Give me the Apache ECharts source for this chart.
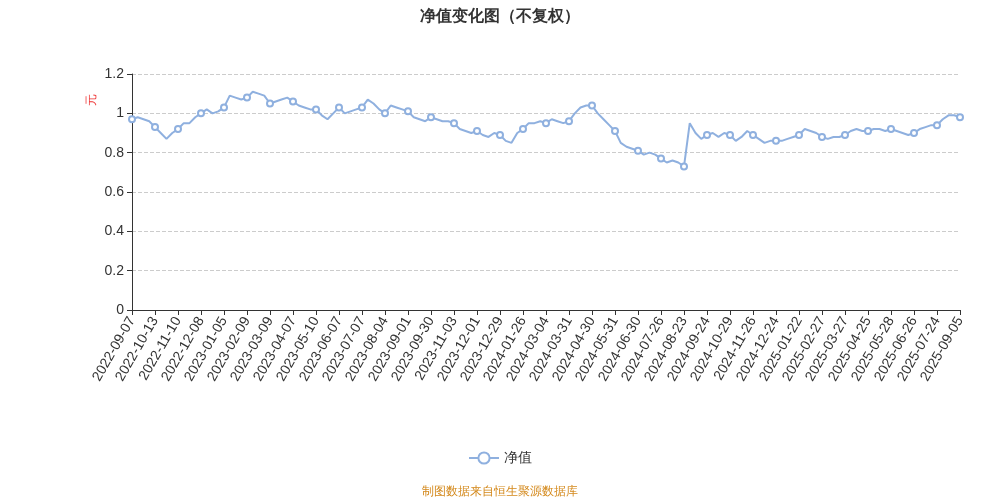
<!DOCTYPE html>
<html><head><meta charset="utf-8">
<script src="https://cdn.jsdelivr.net/npm/echarts@6/dist/echarts.min.js"></script>
<style>html,body{margin:0;padding:0}#c{width:1000px;height:500px}</style></head>
<body><div id="c"></div>
<script>
const labelDates = ["2022-09-07","2022-10-13","2022-11-10","2022-12-08","2023-01-05","2023-02-09","2023-03-09","2023-04-07","2023-05-10","2023-06-07","2023-07-07","2023-08-04","2023-09-01","2023-09-30","2023-11-03","2023-12-01","2023-12-29","2024-01-26","2024-03-04","2024-03-31","2024-04-30","2024-05-31","2024-06-30","2024-07-26","2024-08-23","2024-09-24","2024-10-29","2024-11-26","2024-12-24","2025-01-22","2025-02-27","2025-03-27","2025-04-25","2025-05-28","2025-06-26","2025-07-24","2025-09-05"];
const navValues = [
0.97,
0.98,0.97,0.96,0.93,
0.90,0.87,0.90,0.92,
0.95,0.95,0.98,1.00,
1.02,1.00,1.01,1.03,
1.09,1.08,1.07,1.08,
1.11,1.10,1.09,1.05,
1.06,1.07,1.08,1.06,
1.04,1.03,1.02,1.02,
0.99,0.97,1.00,1.03,
1.00,1.01,1.02,1.03,
1.07,1.05,1.02,1.00,
1.04,1.03,1.02,1.01,
0.98,0.97,0.96,0.98,
0.97,0.96,0.96,0.95,
0.92,0.91,0.90,0.91,
0.89,0.88,0.90,0.89,
0.86,0.85,0.90,0.92,
0.95,0.95,0.96,0.95,
0.97,0.96,0.95,0.96,
1.00,1.03,1.04,1.04,
1.00,0.97,0.94,0.91,
0.85,0.83,0.82,0.81,
0.79,0.80,0.79,0.77,
0.75,0.76,0.75,0.73,
0.95,0.90,0.87,0.89,
0.90,0.88,0.90,0.89,
0.86,0.88,0.91,0.89,
0.87,0.85,0.86,0.86,
0.86,0.87,0.88,0.89,
0.92,0.91,0.90,0.88,
0.87,0.88,0.88,0.89,
0.91,0.92,0.91,0.91,
0.92,0.92,0.91,0.92,
0.91,0.90,0.89,0.90,
0.92,0.93,0.94,0.94,
0.97,0.99,0.99,0.98];
const yTicks = [0,0.2,0.4,0.6,0.8,1,1.2];
const cats = [];
const fmt = d => d.toISOString().slice(0,10);
for (let i = 0; i < labelDates.length; i++) {
  cats.push(labelDates[i]);
  if (i < labelDates.length - 1) {
    const a = new Date(labelDates[i]).getTime(), b = new Date(labelDates[i+1]).getTime();
    for (let k = 1; k < 4; k++) cats.push(fmt(new Date(a + (b - a) * k / 4)));
  }
}
const chart = echarts.init(document.getElementById('c'));
chart.setOption({
  title:{text:'净值变化图（不复权）',left:'center',top:4,textStyle:{fontSize:16,fontWeight:'bold',color:'#333'}},
  grid:{left:132,right:40,top:74,bottom:190},
  legend:{bottom:30,data:['净值'],itemWidth:30,itemHeight:14,textStyle:{fontSize:14,color:'#333'}},
  graphic:[
    {type:'text',left:'center',bottom:2,style:{text:'制图数据来自恒生聚源数据库',fill:'#d4891c',fontSize:12}},
    {type:'text',x:86,y:106,rotation:Math.PI/2,style:{text:'元',fill:'#e33',fontSize:12}}
  ],
  xAxis:{type:'category',data:cats,boundaryGap:false,
    axisLine:{lineStyle:{color:'#333'}},axisTick:{interval:3},
    axisLabel:{interval:3,rotate:60,fontSize:14,color:'#333'}},
  yAxis:{type:'value',min:0,max:1.2,interval:0.2,
    axisLine:{show:true,lineStyle:{color:'#333'}},axisTick:{show:true},
    axisLabel:{fontSize:14,color:'#333',formatter:v=>String(+v.toFixed(1))},
    splitLine:{lineStyle:{type:'dashed',color:'#ccc'}}},
  series:[{name:'净值',type:'line',data:navValues,symbol:'emptyCircle',symbolSize:6,showSymbol:true,
    itemStyle:{color:'#8fb0df',borderColor:'#8fb0df',borderWidth:1},
    lineStyle:{color:'#8fb0df',width:2}}]
});
</script></body></html>
